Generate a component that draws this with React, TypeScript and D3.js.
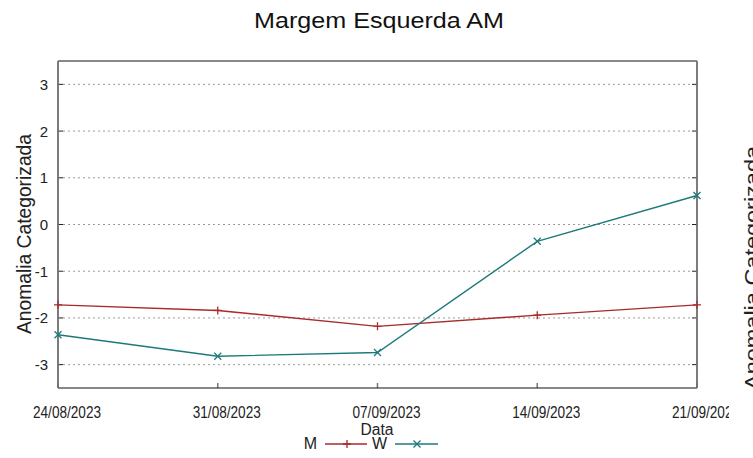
import React from "react";
import * as d3 from "d3";

const dateLabels = ["24/08/2023", "31/08/2023", "07/09/2023", "14/09/2023", "21/09/2023"];
const seriesM = [-1.72, -1.84, -2.18, -1.94, -1.72];
const seriesW = [-2.36, -2.82, -2.74, -0.36, 0.62];
const yTicks = [-3, -2, -1, 0, 1, 2, 3];

const W_ = 753;
const H_ = 458;
const m = { left: 58, right: 697, top: 61, bottom: 388 };
const RED = "#a82a2a";
const TEAL = "#1d7a7a";
const FONT = "'Liberation Sans', Arial, sans-serif";

const parse = d3.timeParse("%d/%m/%Y");
const dates = dateLabels.map((s) => parse(s) as Date);

export default function App() {
  const x = d3.scaleTime().domain([dates[0], dates[dates.length - 1]]).range([m.left, m.right]);
  const y = d3.scaleLinear().domain([-3.5, 3.5]).range([m.bottom, m.top]);
  const fmt = d3.timeFormat("%d/%m/%Y");
  const line = d3
    .line<number>()
    .x((_, i) => x(dates[i]))
    .y((v) => y(v));

  const plus = (cx: number, cy: number, c: string, k: string) => (
    <path key={k} d={`M${cx - 4},${cy}H${cx + 4}M${cx},${cy - 4}V${cy + 4}`} stroke={c} strokeWidth={1.3} />
  );
  const cross = (cx: number, cy: number, c: string, k: string) => (
    <path
      key={k}
      d={`M${cx - 3.5},${cy - 3.5}L${cx + 3.5},${cy + 3.5}M${cx - 3.5},${cy + 3.5}L${cx + 3.5},${cy - 3.5}`}
      stroke={c}
      strokeWidth={1.3}
    />
  );

  return (
    <div style={{ position: "fixed", left: 0, top: 0 }}>
      <svg width={W_} height={H_} style={{ display: "block", background: "#fff" }} fontFamily={FONT}>
        <defs>
          <clipPath id="xclip">
            <rect x={0} y={0} width={729} height={H_} />
          </clipPath>
        </defs>
        <text x={379} y={28} fontSize={22} textAnchor="middle" textLength={250} lengthAdjust="spacingAndGlyphs" fill="#111">
          Margem Esquerda AM
        </text>
        {/* grid */}
        {yTicks.map((t) => (
          <g key={"g" + t}>
            <line x1={m.left + 5} x2={m.right - 5} y1={y(t)} y2={y(t)} stroke="#9a9a9a" strokeWidth={1} strokeDasharray="2,3" />
            <line x1={m.left} x2={m.left + 5} y1={y(t)} y2={y(t)} stroke="#222" strokeWidth={1} />
            <line x1={m.right - 5} x2={m.right} y1={y(t)} y2={y(t)} stroke="#222" strokeWidth={1} />
            <text x={48} y={y(t) + 5.5} fontSize={15} textAnchor="end" fill="#222">
              {t}
            </text>
          </g>
        ))}
        {dates.map((d, i) => (
          <g key={"x" + i}>
            <line x1={x(d)} x2={x(d)} y1={m.bottom} y2={m.bottom - 5} stroke="#777" strokeWidth={1.5} />
            <text
              x={x(d) + 9}
              y={418}
              fontSize={16}
              textAnchor="middle"
              textLength={68}
              lengthAdjust="spacingAndGlyphs"
              fill="#222"
              clipPath="url(#xclip)"
            >
              {fmt(d)}
            </text>
          </g>
        ))}
        {/* frame */}
        <line x1={m.left} x2={m.right} y1={m.top} y2={m.top} stroke="#111" strokeWidth={1} />
        <line x1={m.left} x2={m.right} y1={m.bottom} y2={m.bottom} stroke="#111" strokeWidth={1.2} />
        <line x1={m.left} x2={m.left} y1={m.top} y2={m.bottom} stroke="#6e6e6e" strokeWidth={1.8} />
        <line x1={m.right} x2={m.right} y1={m.top} y2={m.bottom} stroke="#6e6e6e" strokeWidth={1.8} />
        {/* series */}
        <path d={line(seriesM) || ""} fill="none" stroke={RED} strokeWidth={1.4} />
        {seriesM.map((v, i) => plus(x(dates[i]), y(v), RED, "pm" + i))}
        <path d={line(seriesW) || ""} fill="none" stroke={TEAL} strokeWidth={1.4} />
        {seriesW.map((v, i) => cross(x(dates[i]), y(v), TEAL, "pw" + i))}
        {/* axis labels */}
        <text x={377} y={435} fontSize={16} textAnchor="middle" textLength={33} lengthAdjust="spacingAndGlyphs" fill="#222">
          Data
        </text>
        <text
          transform={`translate(30.5,234) rotate(-90)`}
          fontSize={21}
          textAnchor="middle"
          textLength={200}
          lengthAdjust="spacingAndGlyphs"
          fill="#222"
        >
          Anomalia Categorizada
        </text>
        <text
          transform={`translate(759,268) rotate(-90)`}
          fontSize={21}
          textAnchor="middle"
          textLength={244}
          lengthAdjust="spacingAndGlyphs"
          fill="#222"
        >
          Anomalia Categorizada
        </text>
        {/* legend */}
        <text x={317} y={449} fontSize={16} textAnchor="end" fill="#222">
          M
        </text>
        <line x1={325} x2={367} y1={444} y2={444} stroke={RED} strokeWidth={1.4} />
        {plus(347, 444, RED, "lm")}
        <text x={387} y={449} fontSize={16} textAnchor="end" fill="#222">
          W
        </text>
        <line x1={395} x2={438} y1={444} y2={444} stroke={TEAL} strokeWidth={1.4} />
        {cross(417, 444, TEAL, "lw")}
      </svg>
    </div>
  );
}
